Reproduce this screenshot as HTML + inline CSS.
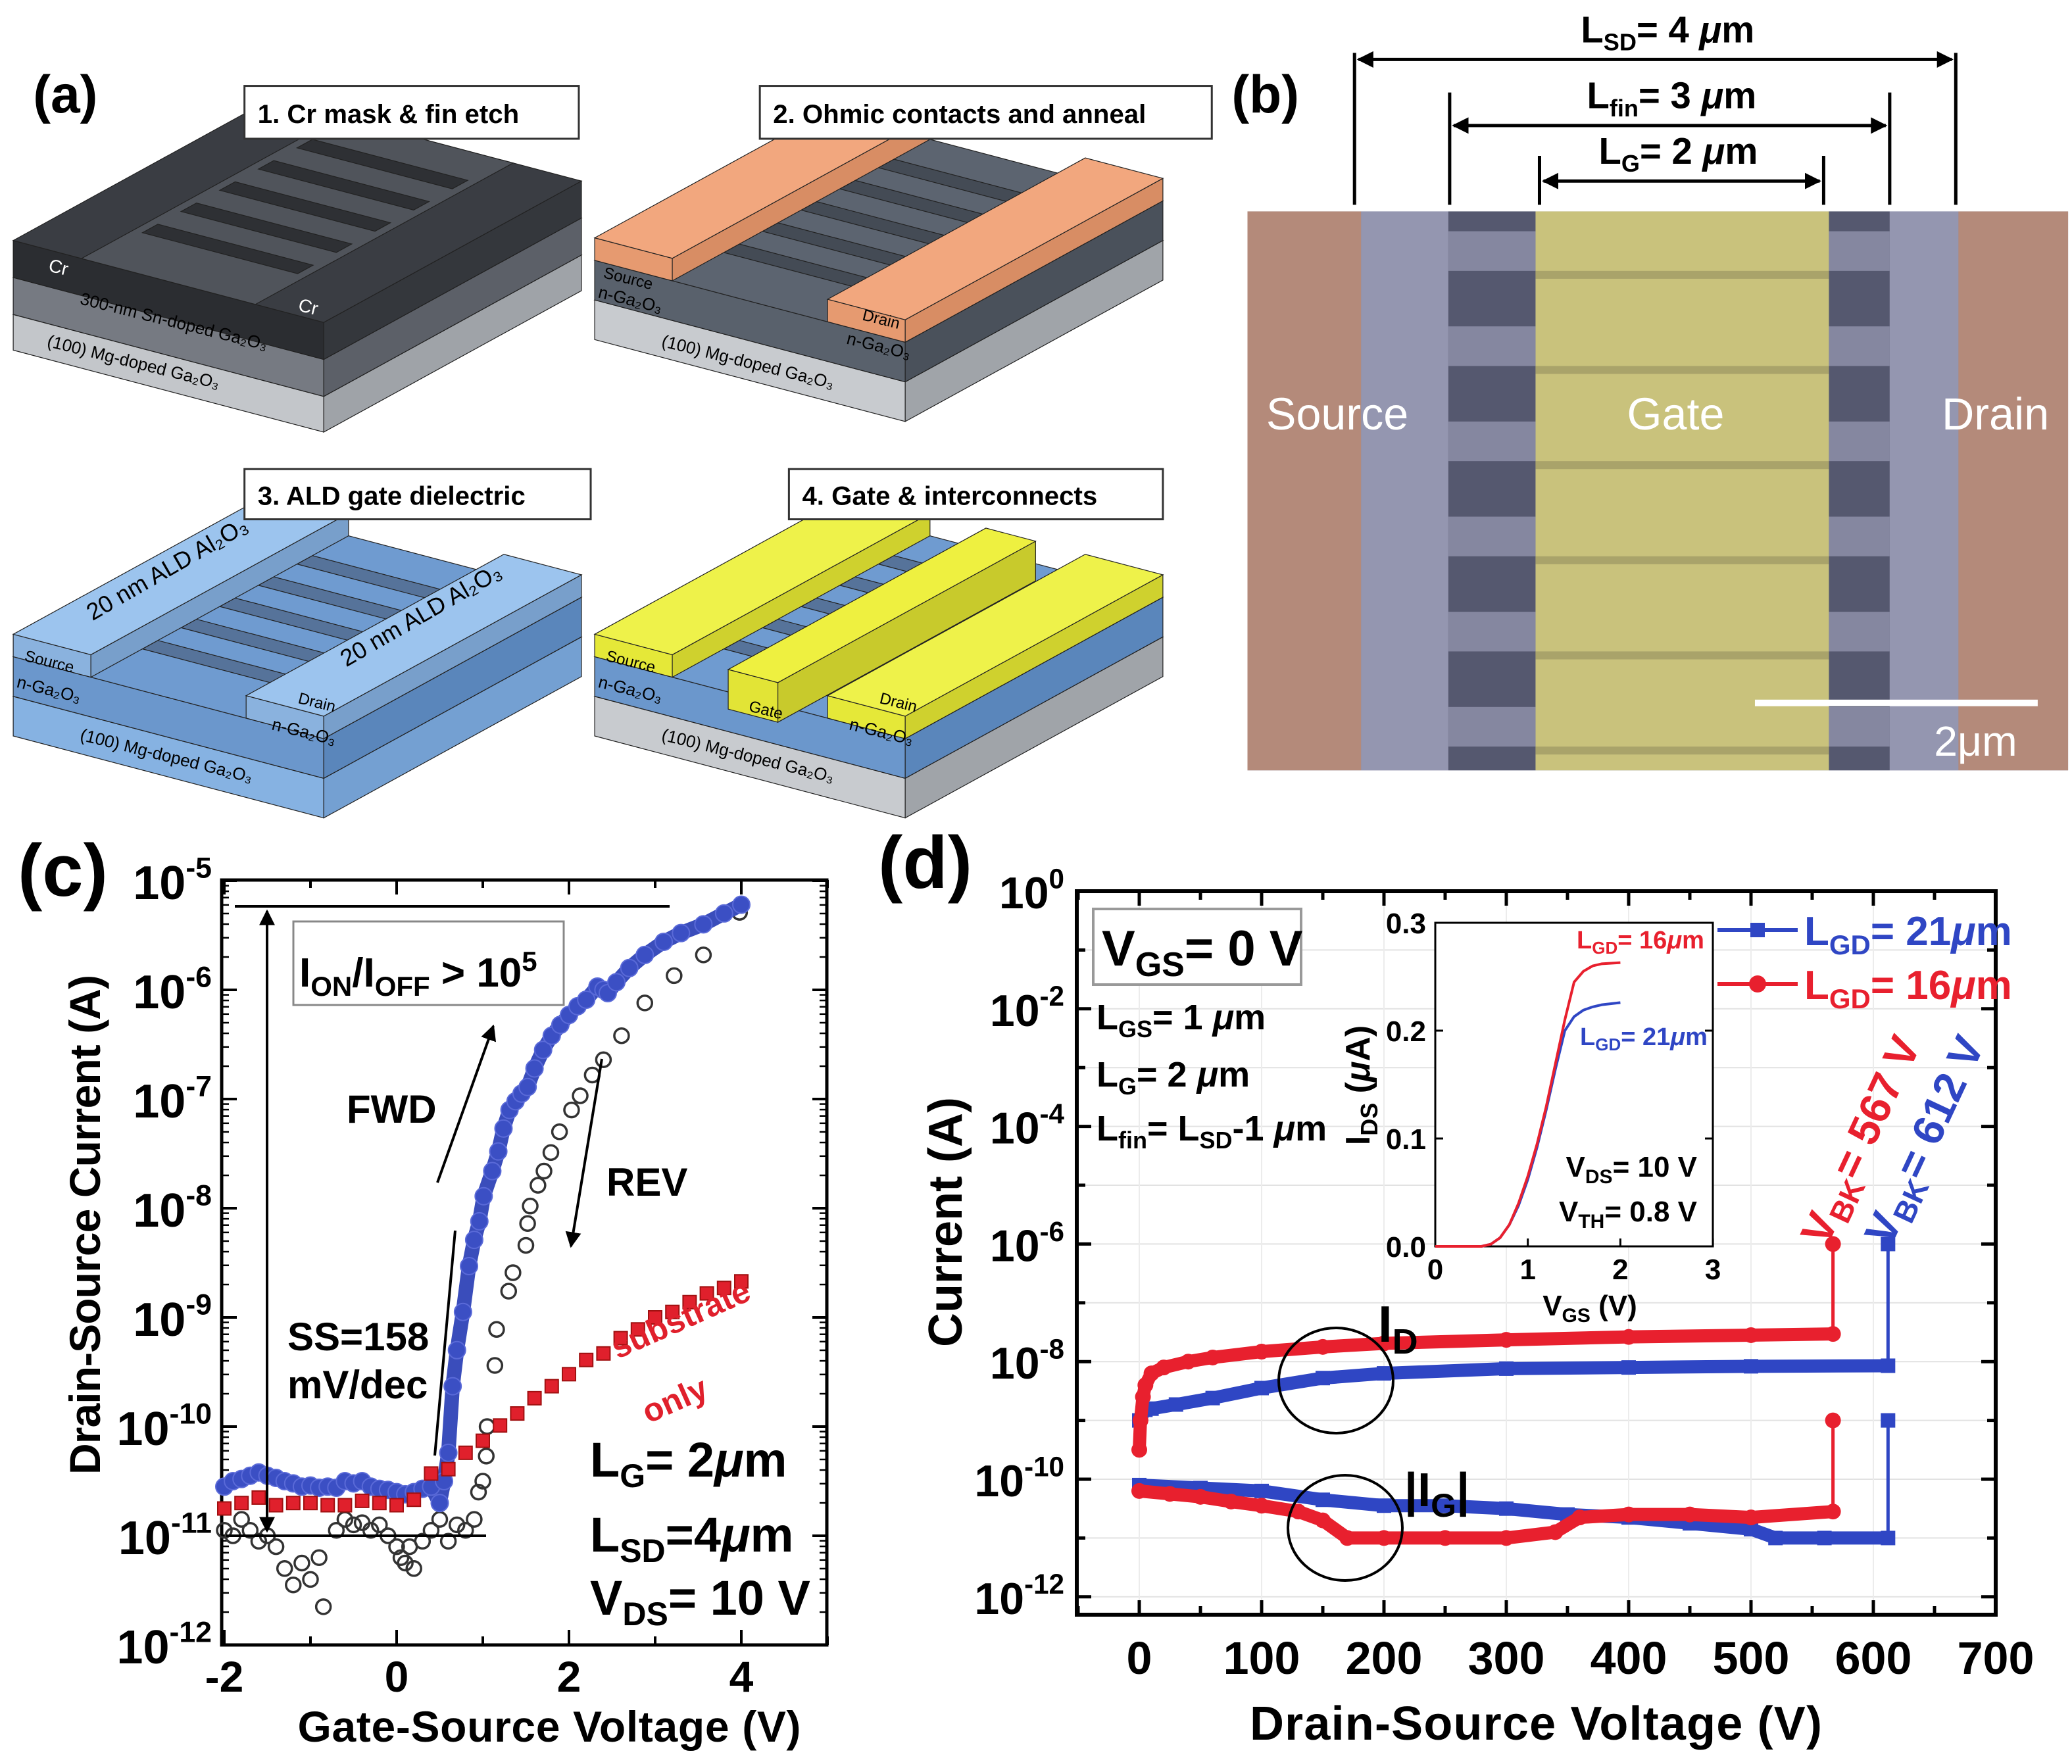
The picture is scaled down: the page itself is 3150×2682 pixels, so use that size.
<!DOCTYPE html>
<html><head><meta charset="utf-8"><style>
html,body{margin:0;padding:0;background:#fff}
svg{display:block}
text{font-family:"Liberation Sans",Arial,sans-serif}
</style></head><body>
<svg id="fig" xmlns="http://www.w3.org/2000/svg" width="3150" height="2682" viewBox="0 0 3150 2682">
<defs>
<marker id="ah" viewBox="0 0 10 10" refX="9" refY="5" markerWidth="5" markerHeight="5" orient="auto-start-reverse"><path d="M0,0 L10,5 L0,10 z" fill="#000"/></marker>
<marker id="ah2" viewBox="0 0 10 10" refX="9" refY="5" markerWidth="6" markerHeight="6" orient="auto-start-reverse"><path d="M0,0 L10,5 L0,10 z" fill="#000"/></marker>
</defs>

<g transform="scale(2.009)">
  <text x="25" y="85" font-size="40" font-weight="bold">(a)</text>
  <g id="blocks"></g>
  <g font-size="20" font-weight="bold">
    <rect x="185" y="65" width="253" height="40" fill="#fff" stroke="#333" stroke-width="1.5"/>
    <text x="195" y="93">1.  Cr mask &amp; fin etch</text>
    <rect x="575" y="65" width="342" height="40" fill="#fff" stroke="#333" stroke-width="1.5"/>
    <text x="585" y="93">2.  Ohmic contacts and anneal</text>
    <rect x="185" y="355" width="262" height="38" fill="#fff" stroke="#333" stroke-width="1.5"/>
    <text x="195" y="382">3.  ALD gate dielectric</text>
    <rect x="597" y="355" width="283" height="38" fill="#fff" stroke="#333" stroke-width="1.5"/>
    <text x="607" y="382">4.  Gate &amp; interconnects</text>
  </g>
</g>

<g transform="scale(2.009)">
  <text x="932" y="85" font-size="40" font-weight="bold">(b)</text>
  <g>
    <rect x="944" y="160" width="621" height="423" fill="#8a8ca6"/>
    <rect x="944" y="160" width="86" height="423" fill="#b48a7a"/>
    <rect x="1030" y="160" width="66" height="423" fill="#9496b0"/>
    <rect x="1096" y="160" width="66" height="423" fill="#55586f"/>
    <rect x="1162" y="160" width="222" height="423" fill="#c9c27c"/>
    <rect x="1384" y="160" width="46" height="423" fill="#55586f"/>
    <rect x="1430" y="160" width="52" height="423" fill="#9496b0"/>
    <rect x="1482" y="160" width="83" height="423" fill="#b48a7a"/>
    <g id="fins" fill="#8587a0"></g>
    <text x="1012" y="325" font-size="34" fill="#fff" text-anchor="middle">Source</text>
    <text x="1268" y="325" font-size="34" fill="#fff" text-anchor="middle">Gate</text>
    <text x="1510" y="325" font-size="34" fill="#fff" text-anchor="middle">Drain</text>
    <line x1="1328" y1="532" x2="1542" y2="532" stroke="#fff" stroke-width="5"/>
    <text x="1495" y="572" font-size="32" fill="#fff" text-anchor="middle">2μm</text>
  </g>
  <g stroke="#000" stroke-width="2.5">
    <line x1="1025" y1="40" x2="1025" y2="155"/><line x1="1480" y1="40" x2="1480" y2="155"/>
    <line x1="1097" y1="70" x2="1097" y2="155"/><line x1="1430" y1="70" x2="1430" y2="155"/>
    <line x1="1165" y1="118" x2="1165" y2="155"/><line x1="1380" y1="118" x2="1380" y2="155"/>
    <line x1="1028" y1="45" x2="1477" y2="45" marker-start="url(#ah)" marker-end="url(#ah)"/>
    <line x1="1100" y1="95" x2="1427" y2="95" marker-start="url(#ah)" marker-end="url(#ah)"/>
    <line x1="1168" y1="137" x2="1377" y2="137" marker-start="url(#ah)" marker-end="url(#ah)"/>
  </g>
  <g font-size="28" font-weight="bold" text-anchor="middle">
    <text x="1262" y="32">L<tspan font-size="18" dy="6">SD</tspan><tspan dy="-6">= 4 </tspan><tspan font-style="italic">μ</tspan>m</text>
    <text x="1265" y="82">L<tspan font-size="18" dy="6">fin</tspan><tspan dy="-6">= 3 </tspan><tspan font-style="italic">μ</tspan>m</text>
    <text x="1270" y="124">L<tspan font-size="18" dy="6">G</tspan><tspan dy="-6">= 2 </tspan><tspan font-style="italic">μ</tspan>m</text>
  </g>
</g>

<g id="panelC"></g>
<g id="panelD"></g>
</svg>

<script>
// ---------- Panel (c) data ----------
const cBlueV = [-2,-1.9,-1.8,-1.7,-1.6,-1.5,-1.4,-1.3,-1.2,-1.1,-1.0,-0.9,-0.8,-0.7,-0.6,-0.5,-0.4,-0.3,-0.2,-0.1,0,0.1,0.2,0.3,0.4,0.5,0.55,0.6,0.65,0.7,0.77,0.84,0.9,0.96,1.01,1.11,1.18,1.24,1.31,1.38,1.45,1.52,1.6,1.7,1.8,1.9,2.0,2.1,2.2,2.33,2.4,2.45,2.55,2.7,2.88,3.1,3.3,3.56,3.8,4.0];
const cBlueLog = [-10.55,-10.5,-10.48,-10.45,-10.42,-10.45,-10.47,-10.5,-10.52,-10.55,-10.54,-10.56,-10.55,-10.56,-10.5,-10.52,-10.5,-10.55,-10.57,-10.58,-10.6,-10.62,-10.6,-10.57,-10.55,-10.7,-10.5,-10.24,-9.63,-9.3,-8.95,-8.53,-8.29,-8.12,-7.89,-7.66,-7.48,-7.27,-7.1,-7.02,-6.95,-6.89,-6.72,-6.55,-6.42,-6.32,-6.23,-6.15,-6.09,-5.97,-6.0,-6.03,-5.93,-5.8,-5.68,-5.56,-5.48,-5.40,-5.3,-5.22];
const cGreyV = [-2,-1.9,-1.8,-1.7,-1.6,-1.5,-1.4,-1.3,-1.2,-1.1,-1.0,-0.9,-0.85,-0.7,-0.6,-0.5,-0.4,-0.3,-0.2,-0.1,0,0.05,0.1,0.15,0.2,0.3,0.4,0.5,0.6,0.7,0.8,0.9,0.95,1.0,1.04,1.05,1.14,1.16,1.3,1.35,1.5,1.52,1.55,1.64,1.71,1.79,1.89,2.03,2.13,2.27,2.4,2.61,2.88,3.22,3.56,3.98];
const cGreyLog = [-10.95,-11.0,-10.85,-10.95,-11.05,-11.0,-11.1,-11.3,-11.45,-11.25,-11.4,-11.2,-11.65,-10.95,-10.85,-10.9,-10.88,-10.95,-10.9,-11.0,-11.1,-11.2,-11.25,-11.1,-11.3,-11.05,-10.95,-10.85,-11.05,-10.9,-10.95,-10.85,-10.6,-10.5,-10.27,-10.0,-9.44,-9.11,-8.76,-8.59,-8.34,-8.14,-7.98,-7.79,-7.66,-7.49,-7.30,-7.10,-6.97,-6.78,-6.64,-6.42,-6.12,-5.87,-5.68,-5.29];
const cRedV = [-2,-1.8,-1.6,-1.4,-1.2,-1.0,-0.8,-0.6,-0.4,-0.2,0,0.2,0.4,0.6,0.8,1.0,1.2,1.4,1.6,1.8,2.0,2.2,2.4,2.6,2.8,3.0,3.2,3.4,3.6,3.8,4.0];
const cRedLog = [-10.75,-10.7,-10.65,-10.72,-10.7,-10.7,-10.72,-10.72,-10.68,-10.7,-10.72,-10.67,-10.43,-10.39,-10.24,-10.13,-9.99,-9.88,-9.74,-9.63,-9.52,-9.39,-9.33,-9.19,-9.11,-9.0,-8.95,-8.86,-8.78,-8.73,-8.67];
const cXTicks = [-2,0,2,4];
const cYTicks = [-5,-6,-7,-8,-9,-10,-11,-12];

// ---------- Panel (d) data ----------
const dRedIdV = [0,1,3,5,10,20,40,60,100,150,200,300,400,500,567];
const dRedIdLog = [-9.5,-9.0,-8.6,-8.4,-8.2,-8.1,-8.0,-7.93,-7.83,-7.75,-7.69,-7.63,-7.58,-7.55,-7.53];
const dBlueIdV = [0,5,10,30,60,100,150,200,300,400,500,612];
const dBlueIdLog = [-9.0,-8.82,-8.8,-8.73,-8.62,-8.45,-8.28,-8.2,-8.12,-8.1,-8.08,-8.07];
const dBlueIgV = [0,50,100,150,200,250,300,350,400,450,500,520,560,612];
const dBlueIgLog = [-10.1,-10.15,-10.2,-10.35,-10.45,-10.45,-10.5,-10.6,-10.65,-10.75,-10.85,-11.0,-11.0,-11.0];
const dRedIgV = [0,25,50,75,100,130,150,170,200,250,300,340,360,400,450,500,567];
const dRedIgLog = [-10.2,-10.25,-10.3,-10.38,-10.45,-10.55,-10.7,-11.0,-11.0,-11.0,-11.0,-10.9,-10.65,-10.6,-10.6,-10.65,-10.55];
const dBreakdownV = [567,612];
const dBreakTopLog = [-6,-6];
const dBreakIgTopLog = [-9,-9];
const dXTicks = [0,100,200,300,400,500,600,700];
const dYTicks = [0,-2,-4,-6,-8,-10,-12];

// inset
const inV = [0,0.5,0.6,0.7,0.8,0.9,1.0,1.1,1.2,1.3,1.4,1.5,1.6,1.7,1.8,2.0];
const inRed = [0,0,0.002,0.008,0.02,0.04,0.065,0.095,0.13,0.17,0.21,0.245,0.255,0.26,0.262,0.263];
const inBlue = [0,0,0.002,0.008,0.02,0.038,0.062,0.092,0.127,0.165,0.2,0.213,0.219,0.222,0.224,0.226];
const inXTicks = [0,1,2,3];
const inYTicks = [0,0.1,0.2,0.3];

const NS = "http://www.w3.org/2000/svg";
function mk(tag, attrs, parent){const e=document.createElementNS(NS,tag);for(const k in attrs)e.setAttribute(k,attrs[k]);if(parent)parent.appendChild(e);return e;}

// ---------- Panel (a) blocks ----------
const blocks = document.getElementById('blocks');
const U=[235,62], V=[195,-107];
function quad(p,c,parent){return mk('polygon',{points:p.map(q=>q.join(',')).join(' '),fill:c,stroke:'#222','stroke-width':0.6},parent);}
function add(a,b,s=1){return [a[0]+b[0]*s,a[1]+b[1]*s];}
function prism(F,u,v,h,top,front,side,parent){
  const A=F,B=add(F,u),C=add(B,v),D=add(F,v);
  const dn=[0,h];
  quad([A,B,add(B,dn),add(A,dn)],front,parent);
  quad([B,C,add(C,dn),add(B,dn)],side,parent);
  quad([A,B,C,D],top,parent);
}
function layered(F,layers,parent){
  let y=0;
  layers.forEach(l=>{y+=l.h;});
  let acc=y;
  for(let i=layers.length-1;i>=0;i--){acc-=layers[i].h;const P=[F[0],F[1]+acc];prism(P,U,V,layers[i].h,layers[i].t,layers[i].f,layers[i].s,parent);}
}
function fins(F,col,parent,n){
  for(let i=0;i<n;i++){
    const t=0.2+i*0.15;
    const s=add(add(F,U,0.25),V,t);
    quad([s,add(s,U,0.5),add(add(s,U,0.5),V,0.06),add(s,V,0.06)],col,parent);
  }
}
function txt(x,y,s,size,rot,parent,name,col){
  const t=mk('text',{x:x,y:y,'font-size':size,transform:`rotate(${rot} ${x} ${y})`,fill:col||'#000'},parent);
  t.textContent=s;
  
  
  return t;
}
{const g=mk('g',{},blocks);
 const F=[10,182];
 layered(F,[{h:28,t:'#3a3d43',f:'#2b2d31',s:'#34373c'},{h:28,t:'#6a6e76',f:'#767a82',s:'#5c6068'},{h:27,t:'#b8bbc0',f:'#c3c6ca',s:'#9fa3a8'}],g);
 const T=add(F,U,0.22);quad([T,add(T,U,0.56),add(add(T,U,0.56),V,1),add(T,V,1)],'#50545b',g);
 fins(F,'#2e3034',g,5);
 txt(36,205,'Cr',14,14,g,'cr-label-left','#fff');txt(225,235,'Cr',14,14,g,'cr-label-right','#fff');
 txt(60,230,'300-nm Sn-doped Ga₂O₃',13,14,g,'sn-doped-label');txt(35,262,'(100) Mg-doped Ga₂O₃',13,14,g,'mg-doped-label-1');}
{const g=mk('g',{},blocks);
 const F=[450,197];
 layered(F,[{h:30,t:'#5c6470',f:'#59616c',s:'#4a515b'},{h:30,t:'#c0c3c7',f:'#c8cbcf',s:'#a0a4a9'}],g);
 fins(F,'#444b55',g,5);
 prism([450,180],[U[0]*0.25,U[1]*0.25],V,17,'#f2a77e','#e69a70','#d88d64',g);
 prism(add([450,180],U,0.75),[U[0]*0.25,U[1]*0.25],V,17,'#f2a77e','#e69a70','#d88d64',g);
 txt(456,210,'Source',12,14,g,'source-label-a');txt(652,242,'Drain',12,14,g,'drain-label-a');
 txt(452,225,'n-Ga₂O₃',13,14,g,'n-ga2o3-left');txt(640,260,'n-Ga₂O₃',13,14,g,'n-ga2o3-right');
 txt(500,262,'(100) Mg-doped Ga₂O₃',13,14,g,'mg-doped-label-2');}
{const g=mk('g',{},blocks);
 const F=[10,497];
 layered(F,[{h:30,t:'#6f9bd0',f:'#6b97cc',s:'#5a86bb'},{h:30,t:'#8ab6e6',f:'#86b2e2',s:'#74a0d2'}],g);
 fins(F,'#56739a',g,5);
 prism([10,480],[U[0]*0.25,U[1]*0.25],V,17,'#9cc4ee','#8ab2de','#789fcb',g);
 prism(add([10,480],U,0.75),[U[0]*0.25,U[1]*0.25],V,17,'#9cc4ee','#8ab2de','#789fcb',g);
 txt(18,500,'Source',12,14,g,'source-label-3');txt(225,532,'Drain',12,14,g,'drain-label-3');
 txt(12,520,'n-Ga₂O₃',13,14,g,'n-ga2o3-3l');txt(205,552,'n-Ga₂O₃',13,14,g,'n-ga2o3-3r');
 txt(60,560,'(100) Mg-doped Ga₂O₃',13,14,g,'mg-doped-label-3');
 txt(70,470,'20 nm ALD Al₂O₃',18,-30,g,'ald-label-left');txt(262,505,'20 nm ALD Al₂O₃',18,-30,g,'ald-label-right');}
{const g=mk('g',{},blocks);
 const F=[450,497];
 layered(F,[{h:30,t:'#6f9bd0',f:'#6b97cc',s:'#5a86bb'},{h:30,t:'#c0c3c7',f:'#c8cbcf',s:'#a0a4a9'}],g);
 fins(F,'#56739a',g,5);
 prism(add([450,480],U,0.43),[U[0]*0.16,U[1]*0.16],V,30,'#eef040','#e2e436','#c8ca2c',g);
 prism([450,480],[U[0]*0.25,U[1]*0.25],V,17,'#eef24a','#e5e838','#cfd12e',g);
 prism(add([450,480],U,0.75),[U[0]*0.25,U[1]*0.25],V,17,'#eef24a','#e5e838','#cfd12e',g);
 txt(458,500,'Source',12,14,g,'source-label-4');txt(665,532,'Drain',12,14,g,'drain-label-4');
 txt(566,538,'Gate',12,14,g,'gate-label-4');
 txt(452,520,'n-Ga₂O₃',13,14,g,'n-ga2o3-4l');txt(642,552,'n-Ga₂O₃',13,14,g,'n-ga2o3-4r');
 txt(500,560,'(100) Mg-doped Ga₂O₃',13,14,g,'mg-doped-label-4');}

{const f=document.getElementById('fins');
 for(let y=175;y<583;y+=72){mk('rect',{x:1096,y:y,width:66,height:30},f);mk('rect',{x:1384,y:y,width:46,height:30},f);
  mk('rect',{x:1162,y:y+30,width:222,height:6,fill:'#a9a36a'},f);}}

// ---------- Panel (c) ----------
const pc=document.getElementById('panelC');
const xc=v=>341+(v+2)*131, yc=l=>1339+(-5-l)*166;
function supText(parent,x,y,base,sup,size,anchor,name,extra){
  const t=mk('text',Object.assign({x:x,y:y,'font-size':size,'font-weight':'bold','text-anchor':anchor||'start'},extra||{}),parent);
  const a=mk('tspan',{},t);a.textContent=base;
  const b=mk('tspan',{dy:-size*0.45,'font-size':size*0.62},t);b.textContent=sup;
  
  
  return t;
}
{
 const lbl=mk('text',{x:27,y:1362,'font-size':112,'font-weight':'bold','font-family':'Liberation Serif, serif'},pc);lbl.textContent='(c)';
 
 const fr=mk('rect',{x:337,y:1338,width:920,height:1163,fill:'none',stroke:'#000','stroke-width':5},pc);
 
 cYTicks.forEach(l=>{
  const y=yc(l);
  mk('line',{x1:337,y1:y,x2:360,y2:y,stroke:'#000','stroke-width':4},pc);
  mk('line',{x1:1257,y1:y,x2:1235,y2:y,stroke:'#000','stroke-width':4},pc);
  supText(pc,322,y+28,'10',String(l),72,'end','y-tick-label-c');
 });
 for(let l=-12;l<-5;l++)for(let m=2;m<10;m++){const y=yc(l+Math.log10(m));mk('line',{x1:337,y1:y,x2:348,y2:y,stroke:'#000','stroke-width':2.5},pc);mk('line',{x1:1257,y1:y,x2:1246,y2:y,stroke:'#000','stroke-width':2.5},pc);}
 for(let v=-2;v<=5;v++){const x=xc(v);mk('line',{x1:x,y1:2501,x2:x,y2:(v%2===0?2478:2488),stroke:'#000','stroke-width':4},pc);mk('line',{x1:x,y1:1338,x2:x,y2:(v%2===0?1360:1350),stroke:'#000','stroke-width':4},pc);}
 cXTicks.forEach(v=>{const t=mk('text',{x:xc(v),y:2572,'font-size':66,'font-weight':'bold','text-anchor':'middle'},pc);t.textContent=String(v);
  });
 const xt=mk('text',{x:835,y:2648,'font-size':66,'font-weight':'bold','text-anchor':'middle',textLength:765},pc);xt.textContent='Gate-Source Voltage (V)';
 
 const yt=mk('text',{x:152,y:1862,'font-size':66,'font-weight':'bold','text-anchor':'middle',transform:'rotate(-90 152 1862)',textLength:760},pc);yt.textContent='Drain-Source Current   (A)';
 

 const gGrey=mk('g',{fill:'none',stroke:'#333','stroke-width':3.5},pc);
 
 cGreyV.forEach((v,i)=>{const c=mk('circle',{cx:xc(v),cy:yc(cGreyLog[i]),r:11},gGrey);
  });
 const gBlue=mk('g',{},pc);
 
 mk('polyline',{points:cBlueV.map((v,i)=>xc(v)+','+yc(cBlueLog[i])).join(' '),fill:'none',stroke:'#3a4dbb','stroke-width':22,'stroke-linejoin':'round','stroke-linecap':'round'},gBlue);
 cBlueV.forEach((v,i)=>{const c=mk('circle',{cx:xc(v),cy:yc(cBlueLog[i]),r:13,fill:'#3b4fc4',stroke:'#5a6ad8','stroke-width':2},gBlue);
  });
 const gRed=mk('g',{},pc);
 
 cRedV.forEach((v,i)=>{const r=mk('rect',{x:xc(v)-10,y:yc(cRedLog[i])-10,width:20,height:20,fill:'#e0202c',stroke:'#a01010','stroke-width':2},gRed);
  });

 const an=mk('g',{stroke:'#000','stroke-width':4},pc);
 
 mk('line',{x1:357,y1:1378,x2:1018,y2:1378},an);
 mk('line',{x1:344,y1:2335,x2:739,y2:2335},an);
 mk('line',{x1:406,y1:1385,x2:406,y2:2328,'marker-start':'url(#ah2)','marker-end':'url(#ah2)'},an);
 mk('line',{x1:665,y1:1798,x2:750,y2:1560,'marker-end':'url(#ah2)'},an);
 mk('line',{x1:915,y1:1610,x2:868,y2:1895,'marker-end':'url(#ah2)'},an);
 mk('line',{x1:692,y1:1871,x2:661,y2:2213},an);
 mk('rect',{x:446,y:1401,width:411,height:127,fill:'#fff',stroke:'#888','stroke-width':3},pc);
 const t1=mk('text',{x:455,y:1500,'font-size':62,'font-weight':'bold'},pc);
 t1.innerHTML='I<tspan font-size="42" dy="14">ON</tspan><tspan dy="-14">/I</tspan><tspan font-size="42" dy="14">OFF</tspan><tspan dy="-14"> &gt; 10</tspan><tspan font-size="42" dy="-24">5</tspan>';
 
 const f1=mk('text',{x:527,y:1707,'font-size':60,'font-weight':'bold'},pc);f1.textContent='FWD';
 
 const r1=mk('text',{x:922,y:1818,'font-size':60,'font-weight':'bold'},pc);r1.textContent='REV';
 
 const s1=mk('text',{x:437,y:2053,'font-size':60,'font-weight':'bold'},pc);s1.textContent='SS=158';
 
 const s2=mk('text',{x:437,y:2126,'font-size':60,'font-weight':'bold'},pc);s2.textContent='mV/dec';
 
 const sb=mk('text',{x:1036,y:2022,'font-size':50,'font-weight':'bold',fill:'#e0202c','text-anchor':'middle',transform:'rotate(-24 1036 2008)'},pc);sb.textContent='substrate';
 
 const on=mk('text',{x:1027,y:2145,'font-size':50,'font-weight':'bold',fill:'#e0202c','text-anchor':'middle',transform:'rotate(-24 1027 2131)'},pc);on.textContent='only';
 
 const lg=mk('text',{x:897,y:2245,'font-size':74,'font-weight':'bold'},pc);
 lg.innerHTML='L<tspan font-size="50" dy="16">G</tspan><tspan dy="-16">= 2</tspan><tspan font-style="italic">μ</tspan>m';
 
 const ls=mk('text',{x:897,y:2359,'font-size':74,'font-weight':'bold'},pc);
 ls.innerHTML='L<tspan font-size="50" dy="16">SD</tspan><tspan dy="-16">=4</tspan><tspan font-style="italic">μ</tspan>m';
 
 const vd=mk('text',{x:897,y:2455,'font-size':74,'font-weight':'bold'},pc);
 vd.innerHTML='V<tspan font-size="50" dy="16">DS</tspan><tspan dy="-16">= 10 V</tspan>';
 
}

// ---------- Panel (d) ----------
const pd=document.getElementById('panelD');
const xd=v=>1732+v*1.86, yd=l=>1355+(0-l)*89.4;
const xi=v=>2182+v*140.7, yi=val=>1895-val/0.3*492;
{
 const lbl=mk('text',{x:1335,y:1350,'font-size':112,'font-weight':'bold','font-family':'Liberation Serif, serif'},pd);lbl.textContent='(d)';
 
 for(let l=0;l>=-12;l--){const y=yd(l);mk('line',{x1:1637,y1:y,x2:3034,y2:y,stroke:'#e2e2e2','stroke-width':2},pd);}
 for(let v=0;v<=700;v+=100){mk('line',{x1:xd(v),y1:1355,x2:xd(v),y2:2455,stroke:'#ececec','stroke-width':2},pd);}
 const fr=mk('rect',{x:1637,y:1355,width:1397,height:1100,fill:'none',stroke:'#000','stroke-width':6},pd);
 
 for(let l=0;l>=-12;l--){const y=yd(l);const mj=(l%2===0);
  mk('line',{x1:1637,y1:y,x2:1637+(mj?22:13),y2:y,stroke:'#000','stroke-width':5},pd);
  mk('line',{x1:3034,y1:y,x2:3034-(mj?22:13),y2:y,stroke:'#000','stroke-width':5},pd);}
 dYTicks.forEach(l=>{supText(pd,1618,yd(l)+26,'10',String(l),68,'end','y-tick-label-d');});
 for(let v=-50;v<=700;v+=50){const x=xd(v);const mj=(v%100===0);
  mk('line',{x1:x,y1:2455,x2:x,y2:2455-(mj?22:13),stroke:'#000','stroke-width':5},pd);
  mk('line',{x1:x,y1:1355,x2:x,y2:1355+(mj?22:13),stroke:'#000','stroke-width':5},pd);}
 dXTicks.forEach(v=>{const t=mk('text',{x:xd(v),y:2545,'font-size':70,'font-weight':'bold','text-anchor':'middle'},pd);t.textContent=String(v);
  });
 const xt=mk('text',{x:2335,y:2645,'font-size':72,'font-weight':'bold','text-anchor':'middle',textLength:870},pd);xt.textContent='Drain-Source Voltage (V)';
 
 const yt=mk('text',{x:1462,y:1858,'font-size':72,'font-weight':'bold','text-anchor':'middle',transform:'rotate(-90 1462 1858)'},pd);yt.textContent='Current (A)';
 

 function series(vs,ls,col,shape,name,endV,topLog){
  const g=mk('g',{},pd);
  
  
  const pts=vs.map((v,i)=>xd(v)+','+yd(ls[i]));
  pts.push(xd(endV)+','+yd(topLog));
  mk('polyline',{points:pts.join(' '),fill:'none',stroke:col,'stroke-width':5},g);
  mk('polyline',{points:vs.map((v,i)=>xd(v)+','+yd(ls[i])).join(' '),fill:'none',stroke:col,'stroke-width':20,'stroke-linejoin':'round'},g);
  const all=vs.map((v,i)=>[v,ls[i]]);all.push([endV,topLog]);
  all.forEach(p=>{let m;
   if(shape==='c')m=mk('circle',{cx:xd(p[0]),cy:yd(p[1]),r:12,fill:col},g);
   else m=mk('rect',{x:xd(p[0])-11,y:yd(p[1])-11,width:22,height:22,fill:col},g);
   });
 }
 series(dBlueIdV,dBlueIdLog,'#2f46c4','s','blue-id-series',dBreakdownV[1],dBreakTopLog[1]);
 series(dBlueIgV,dBlueIgLog,'#2f46c4','s','blue-ig-series',dBreakdownV[1],dBreakIgTopLog[1]);
 series(dRedIdV,dRedIdLog,'#e8202e','c','red-id-series',dBreakdownV[0],dBreakTopLog[0]);
 series(dRedIgV,dRedIgLog,'#e8202e','c','red-ig-series',dBreakdownV[0],dBreakIgTopLog[0]);

 const c1=mk('ellipse',{cx:2031,cy:2099,rx:87,ry:80,fill:'none',stroke:'#000','stroke-width':4},pd);
 
 const c2=mk('ellipse',{cx:2045,cy:2323,rx:87,ry:80,fill:'none',stroke:'#000','stroke-width':4},pd);
 
 const id=mk('text',{x:2095,y:2040,'font-size':78,'font-weight':'bold'},pd);
 id.innerHTML='I<tspan font-size="54" dy="18">D</tspan>';
 
 const ig=mk('text',{x:2135,y:2290,'font-size':72,'font-weight':'bold'},pd);
 ig.innerHTML='|I<tspan font-size="50" dy="16">G</tspan><tspan dy="-16">|</tspan>';
 

 mk('rect',{x:1662,y:1382,width:316,height:115,fill:'#fff',stroke:'#999','stroke-width':4},pd);
 const vg=mk('text',{x:1675,y:1468,'font-size':76,'font-weight':'bold'},pd);
 vg.innerHTML='V<tspan font-size="52" dy="16">GS</tspan><tspan dy="-16">= 0 V</tspan>';
 
 const p1=mk('text',{x:1667,y:1565,'font-size':54,'font-weight':'bold'},pd);
 p1.innerHTML='L<tspan font-size="36" dy="12">GS</tspan><tspan dy="-12">= 1 </tspan><tspan font-style="italic">μ</tspan>m';
 
 const p2=mk('text',{x:1667,y:1652,'font-size':54,'font-weight':'bold'},pd);
 p2.innerHTML='L<tspan font-size="36" dy="12">G</tspan><tspan dy="-12">= 2 </tspan><tspan font-style="italic">μ</tspan>m';
 
 const p3=mk('text',{x:1667,y:1734,'font-size':54,'font-weight':'bold'},pd);
 p3.innerHTML='L<tspan font-size="36" dy="12">fin</tspan><tspan dy="-12">= L</tspan><tspan font-size="36" dy="12">SD</tspan><tspan dy="-12">-1 </tspan><tspan font-style="italic">μ</tspan>m';
 

 const lgd=mk('g',{},pd);
 mk('line',{x1:2611,y1:1414,x2:2733,y2:1414,stroke:'#2f46c4','stroke-width':6},lgd);
 mk('rect',{x:2661,y:1403,width:22,height:22,fill:'#2f46c4'},lgd);
 const l1=mk('text',{x:2743,y:1437,'font-size':62,'font-weight':'bold',fill:'#2f46c4'},lgd);
 l1.innerHTML='L<tspan font-size="42" dy="14">GD</tspan><tspan dy="-14">= 21</tspan><tspan font-style="italic">μ</tspan>m';
 
 mk('line',{x1:2611,y1:1496,x2:2733,y2:1496,stroke:'#e8202e','stroke-width':6},lgd);
 mk('circle',{cx:2672,cy:1496,r:13,fill:'#e8202e'},lgd);
 const l2=mk('text',{x:2743,y:1519,'font-size':62,'font-weight':'bold',fill:'#e8202e'},lgd);
 l2.innerHTML='L<tspan font-size="42" dy="14">GD</tspan><tspan dy="-14">= 16</tspan><tspan font-style="italic">μ</tspan>m';
 

 const vb1=mk('text',{x:2830,y:1755,'font-size':66,'font-weight':'bold',fill:'#e8202e','text-anchor':'middle',transform:'rotate(-65 2830 1734)'},pd);
 vb1.innerHTML='V<tspan font-size="46" dy="14">BK</tspan><tspan dy="-14">= 567 V</tspan>';
 
 const vb2=mk('text',{x:2927,y:1755,'font-size':66,'font-weight':'bold',fill:'#2f46c4','text-anchor':'middle',transform:'rotate(-65 2927 1734)'},pd);
 vb2.innerHTML='V<tspan font-size="46" dy="14">BK</tspan><tspan dy="-14">= 612 V</tspan>';
 

 const ins=mk('g',{},pd);
 mk('rect',{x:2182,y:1403,width:422,height:492,fill:'#fff',stroke:'#000','stroke-width':3},ins);
 inYTicks.forEach(t=>{const y=yi(t);mk('line',{x1:2182,y1:y,x2:2194,y2:y,stroke:'#000','stroke-width':3},ins);mk('line',{x1:2604,y1:y,x2:2592,y2:y,stroke:'#000','stroke-width':3},ins);
  const tx=mk('text',{x:2168,y:y+16,'font-size':44,'font-weight':'bold','text-anchor':'end'},ins);tx.textContent=t.toFixed(1);
  });
 inXTicks.forEach(t=>{const x=xi(t);mk('line',{x1:x,y1:1895,x2:x,y2:1883,stroke:'#000','stroke-width':3},ins);
  const tx=mk('text',{x:x,y:1945,'font-size':44,'font-weight':'bold','text-anchor':'middle'},ins);tx.textContent=String(t);
  });
 const ix=mk('text',{x:2417,y:2000,'font-size':44,'font-weight':'bold','text-anchor':'middle'},ins);
 ix.innerHTML='V<tspan font-size="30" dy="10">GS</tspan><tspan dy="-10"> (V)</tspan>';
 
 const iy=mk('text',{x:2082,y:1650,'font-size':52,'font-weight':'bold','text-anchor':'middle',transform:'rotate(-90 2082 1650)'},ins);
 iy.innerHTML='I<tspan font-size="36" dy="12">DS</tspan><tspan dy="-12"> (</tspan><tspan font-style="italic">μ</tspan>A)';
 
 const pb=mk('polyline',{points:inV.map((v,i)=>xi(v)+','+yi(inBlue[i])).join(' '),fill:'none',stroke:'#2f46c4','stroke-width':4},ins);
 
 const pr=mk('polyline',{points:inV.map((v,i)=>xi(v)+','+yi(inRed[i])).join(' '),fill:'none',stroke:'#e8202e','stroke-width':4},ins);
 
 const a1=mk('text',{x:2397,y:1442,'font-size':38,'font-weight':'bold',fill:'#e8202e'},ins);
 a1.innerHTML='L<tspan font-size="26" dy="8">GD</tspan><tspan dy="-8">= 16</tspan><tspan font-style="italic">μ</tspan>m';
 
 const a2=mk('text',{x:2402,y:1589,'font-size':38,'font-weight':'bold',fill:'#2f46c4'},ins);
 a2.innerHTML='L<tspan font-size="26" dy="8">GD</tspan><tspan dy="-8">= 21</tspan><tspan font-style="italic">μ</tspan>m';
 
 const a3=mk('text',{x:2580,y:1789,'font-size':44,'font-weight':'bold','text-anchor':'end'},ins);
 a3.innerHTML='V<tspan font-size="30" dy="10">DS</tspan><tspan dy="-10">= 10 V</tspan>';
 
 const a4=mk('text',{x:2580,y:1857,'font-size':44,'font-weight':'bold','text-anchor':'end'},ins);
 a4.innerHTML='V<tspan font-size="30" dy="10">TH</tspan><tspan dy="-10">= 0.8 V</tspan>';
 
}
</script>
</body></html>
